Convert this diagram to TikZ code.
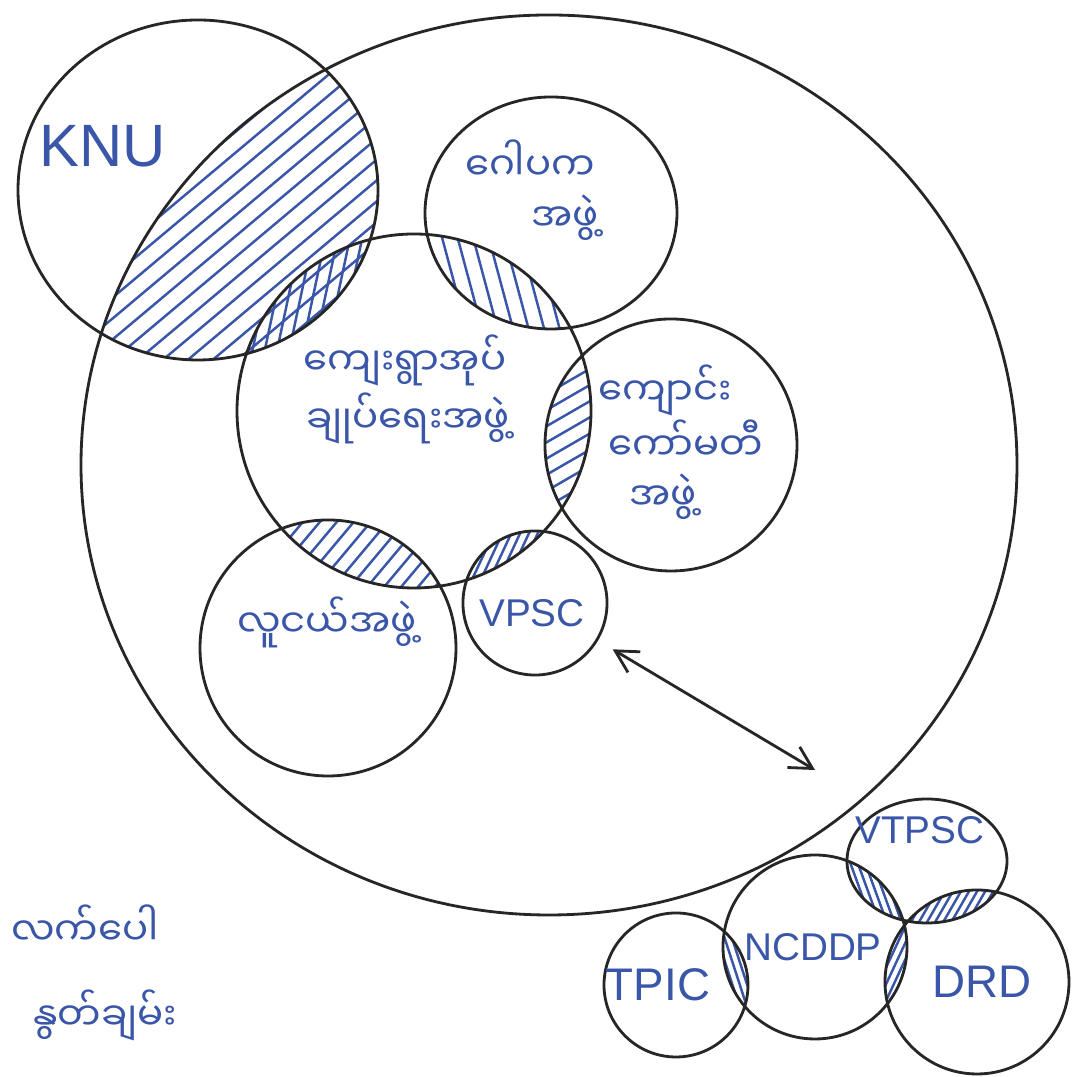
\documentclass[tikz,border=0pt]{standalone}
\usepackage{fontspec}
\setmainfont{Liberation Sans}
\newfontfamily\mya[Script=Myanmar]{Noto Sans Myanmar UI}
\usetikzlibrary{arrows.meta}
\definecolor{ink}{HTML}{3A56A8}
\definecolor{pen}{HTML}{262626}
\newcommand\hatchfill[5]{\foreach \k in {-45,...,45}{\draw[hatchline,shift={(#1,#2)},rotate=#3] (-#5,\k*#4) -- (#5,\k*#4);}}
\tikzset{
  ring/.style={draw=pen, line width=0.8pt},
  hatchline/.style={draw=ink, line width=0.7pt},
  lbl/.style={text=ink, inner sep=0pt},
  my/.style={lbl, font={\mya\fontsize{11}{13}\selectfont}},
  lat/.style={lbl, font={\fontsize{11}{13}\selectfont}},
  twohead/.style={>={Straight Barb[length=0.22cm,width=0.24cm]}, <->}
}
\begin{document}
\begin{tikzpicture}[x=0.01cm,y=-0.01cm]
\fill[white] (0,0) rectangle (1087,1077);
\useasboundingbox (0,0) rectangle (1087,1077);

% hatched overlaps
\begin{scope}
  \clip (198,190) ellipse (180 and 170);
  \clip (549,465) ellipse (468 and 450);
  \hatchfill{230}{220}{40}{16}{320}
  \clip (414,411) circle (177);
  \hatchfill{300}{300}{78}{12}{150}
\end{scope}
\begin{scope}
  \clip (551,213) ellipse (126 and 116);
  \clip (414,411) circle (177);
  \hatchfill{500}{280}{105}{15}{150}
\end{scope}
\begin{scope}
  \clip (671,445) circle (126);
  \clip (414,411) circle (177);
  \hatchfill{570}{445}{30}{14}{150}
\end{scope}
\begin{scope}
  \clip (328,648) circle (128);
  \clip (414,411) circle (177);
  \hatchfill{360}{555}{50}{13}{150}
\end{scope}
\begin{scope}
  \clip (535,603) circle (72);
  \clip (414,411) circle (177);
  \hatchfill{510}{555}{65}{8}{100}
\end{scope}
\begin{scope}
  \clip (927,861) ellipse (80 and 62);
  \clip (815,947) circle (92);
  \hatchfill{875}{890}{110}{7}{80}
\end{scope}
\begin{scope}
  \clip (927,861) ellipse (80 and 62);
  \clip (977,982) circle (92);
  \hatchfill{945}{905}{60}{7}{80}
\end{scope}
\begin{scope}
  \clip (676,985) circle (72);
  \clip (815,947) circle (92);
  \hatchfill{735}{970}{108}{7}{80}
\end{scope}
\begin{scope}
  \clip (815,947) circle (92);
  \clip (977,982) circle (92);
  \hatchfill{895}{965}{65}{7}{80}
\end{scope}

% circles
\draw[ring] (549,465) ellipse (468 and 450);
\draw[ring] (198,190) ellipse (180 and 170);
\draw[ring] (551,213) ellipse (126 and 116);
\draw[ring] (414,411) circle (177);
\draw[ring] (671,445) circle (126);
\draw[ring] (328,648) circle (128);
\node[ring, circle, minimum size=1.44cm, inner sep=0pt] (vpsc) at (535,603) {};
\draw[ring] (927,861) ellipse (80 and 62);
\draw[ring] (815,947) circle (92);
\draw[ring] (676,985) circle (72);
\draw[ring] (977,982) circle (92);

% arrow
\coordinate (arrend) at (815,770);
\draw[pen, line width=0.8pt, twohead, shorten <=0.17cm] (vpsc) -- (arrend);

% labels
\node[lbl, font={\fontsize{17}{20}\selectfont}] (knu) at (103,146) {KNU};
\node[my] (g1) at (530,160) {ဂေါပက};
\node[my] (g2) at (565,218) {အဖွဲ့};
\node[my] (c1) at (405,360) {ကျေးရွာအုပ်};
\node[my] (c2) at (408,418) {ချုပ်ရေးအဖွဲ့};
\node[my] (s1) at (665,390) {ကျောင်း};
\node[my] (s2) at (686,440) {ကော်မတီ};
\node[my] (s3) at (663,497) {အဖွဲ့};
\node[my] (y1) at (327,622) {လူငယ်အဖွဲ့};
\node[my] (l1) at (85,925) {လက်ပေါ};
\node[my] (l2) at (105,1015) {နွတ်ချမ်း};
\node[lat] (vpsclbl) at (532,613) {VPSC};
\node[lat] (vtpsclbl) at (920,830) {VTPSC};
\node[lat] (ncddplbl) at (813,947) {NCDDP};
\node[lat, font={\fontsize{13}{15}\selectfont}] (tpiclbl) at (658,985) {TPIC};
\node[lat, font={\fontsize{13}{15}\selectfont}] (drdlbl) at (982,982) {DRD};
\end{tikzpicture}
\end{document}
